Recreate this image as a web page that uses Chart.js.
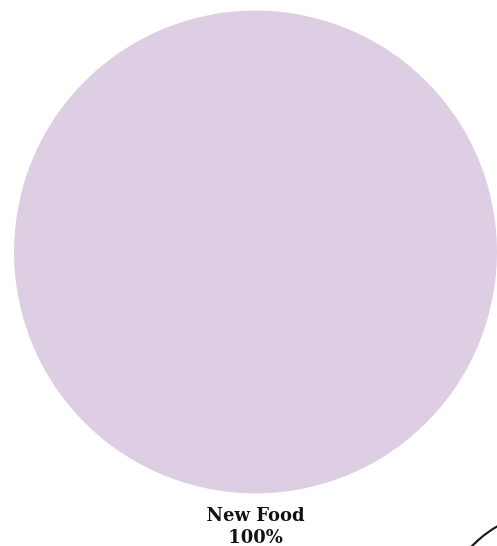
<!DOCTYPE html>
<html>
<head>
<meta charset="utf-8">
<script src="https://cdn.jsdelivr.net/npm/chart.js@4.4.0/dist/chart.umd.min.js"></script>
<style>
  html, body { margin: 0; padding: 0; background: #fff; }
  #wrap { width: 497px; height: 546px; position: relative; }
</style>
</head>
<body>
<div id="wrap"><canvas id="pie"></canvas></div>
<script>
const categories = ['New Food'];
const shares = [100];
const sliceColors = ['#ddcee3'];

// labels under the pie, name on one line and the share below it
const bottomLabels = {
  id: 'bottomLabels',
  afterDatasetsDraw(chart) {
    const ctx = chart.ctx;
    const arc = chart.getDatasetMeta(0).data[0];
    if (!arc) return;
    const y = arc.y + arc.outerRadius;
    ctx.save();
    ctx.fillStyle = '#111';
    ctx.textAlign = 'center';
    ctx.textBaseline = 'middle';
    ctx.font = 'bold 18px "DejaVu Serif"';
    ctx.fillText(categories[0], arc.x, y + 23);
    ctx.fillText(shares[0] + '%', arc.x, y + 45);
    ctx.restore();
  }
};

// the stray stroke at the bottom right corner
const cornerStroke = {
  id: 'cornerStroke',
  afterDraw(chart) {
    const ctx = chart.ctx;
    const w = chart.width, h = chart.height;
    ctx.save();
    ctx.strokeStyle = '#1a1a1a';
    ctx.lineWidth = 2.2;
    ctx.beginPath();
    ctx.moveTo(w - 26, h + 1);
    ctx.quadraticCurveTo(w - 12, h - 13, w + 1, h - 20);
    ctx.stroke();
    ctx.restore();
  }
};

new Chart(document.getElementById('pie'), {
  type: 'pie',
  data: {
    labels: categories,
    datasets: [{
      data: shares,
      backgroundColor: sliceColors,
      borderWidth: 0
    }]
  },
  options: {
    responsive: true,
    maintainAspectRatio: false,
    animation: false,
    layout: {
      padding: { left: 14, right: 0, top: 10, bottom: 52 }
    },
    plugins: {
      legend: { display: false },
      tooltip: { enabled: false }
    }
  },
  plugins: [bottomLabels, cornerStroke]
});
</script>
</body>
</html>
